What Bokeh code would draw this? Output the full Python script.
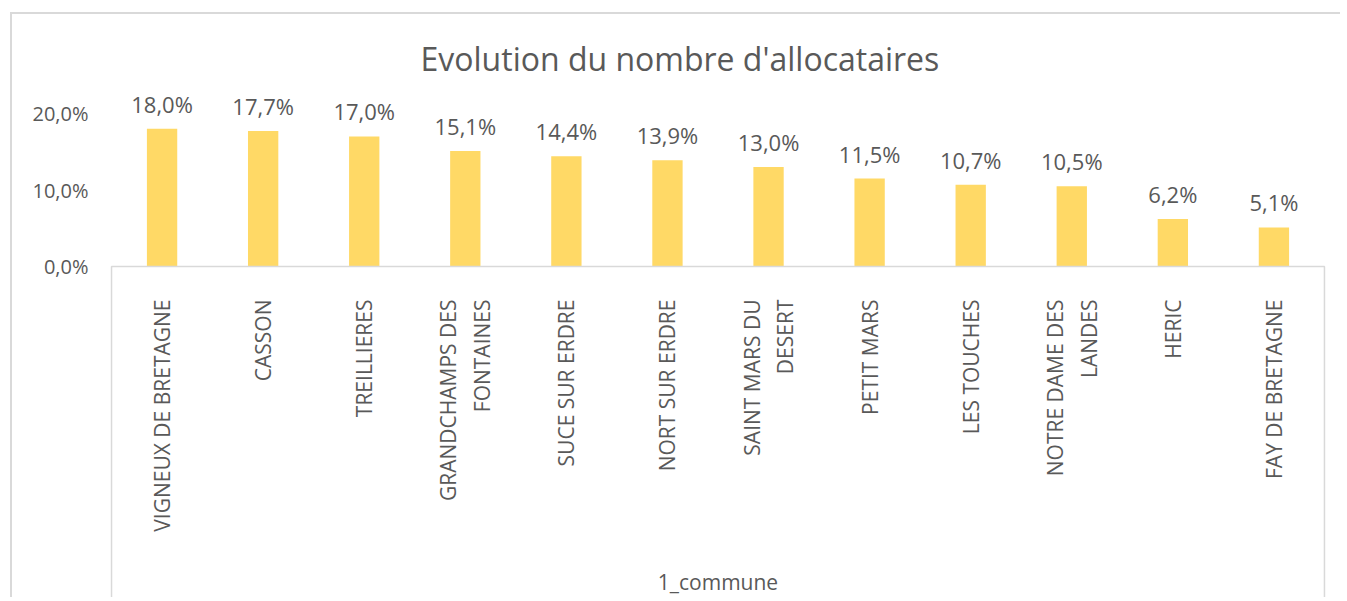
import math
from bokeh.plotting import figure
from bokeh.models import (FactorRange, Range1d, FixedTicker, CustomJSTickFormatter,
                          ColumnDataSource)
from bokeh.core.properties import value
from bokeh.embed import file_html
from bokeh.resources import INLINE

# ---- data ----
communes = ["VIGNEUX DE BRETAGNE", "CASSON", "TREILLIERES", "GRANDCHAMPS DES\nFONTAINES",
            "SUCE SUR ERDRE", "NORT SUR ERDRE", "SAINT MARS DU\nDESERT", "PETIT MARS",
            "LES TOUCHES", "NOTRE DAME DES\nLANDES", "HERIC", "FAY DE BRETAGNE"]
evolution = [0.180, 0.177, 0.170, 0.151, 0.144, 0.139, 0.130, 0.115, 0.107, 0.105, 0.062, 0.051]
y_ticks = [0.0, 0.1, 0.2]
title_text = "Evolution du nombre d'allocataires"
x_title = "1_commune"

labels = [("%.1f" % (v * 100)).replace(".", ",") + "%" for v in evolution]
src = ColumnDataSource(dict(x=communes, y=evolution, lab=labels))

TXT = "#595959"
GRID = "#d9d9d9"
FONT = "Open Sans"

# canvas origin sits at page (12, 14) because of margin + css border
# y: 765 px per unit; frame spans page y 86 .. 599, zero at page y 266
y_end = (266 - 86) / 765.0
y_start = -(599 - 266) / 765.0

p = figure(width=1330, height=585, output_backend="svg", toolbar_location=None,
           x_range=FactorRange(factors=communes, range_padding=0.03, range_padding_units="absolute"),
           y_range=Range1d(y_start, y_end),
           min_border_left=96, min_border_right=15, min_border_top=72, min_border_bottom=0)
p.margin = (12, 0, 0, 10)
p.styles = {"border-top": "2px solid #d9d9d9", "border-left": "2px solid #d9d9d9"}
p.outline_line_color = None
p.background_fill_color = "white"
p.border_fill_color = "white"
p.xgrid.grid_line_color = None
p.ygrid.grid_line_color = None

# title
p.title.text = title_text
p.title.align = "left"
p.title.offset = 312
p.title.text_font = FONT
p.title.text_font_size = "32px"
p.title.text_font_style = "normal"
p.title.text_color = TXT
p.title.standoff = 13

p.vbar(x="x", top="y", width=0.3, source=src, fill_color="#FFD966", line_color=None)
p.text(x="x", y="y", text="lab", source=src, text_align="center", text_baseline="alphabetic",
       y_offset=-25, text_font=value(FONT), text_font_size="22px", text_color=TXT)

# category box: axis line on top + sides going down
n = len(communes)
p.line(x=[0, 0, n, n], y=[y_start, 0, 0, y_start], line_color=GRID, line_width=1.5)

# y axis
ya = p.yaxis[0]
ya.ticker = FixedTicker(ticks=y_ticks)
ya.formatter = CustomJSTickFormatter(code="return (tick*100).toFixed(1).replace('.', ',') + '%';")
ya.axis_line_color = None
ya.major_tick_line_color = None
ya.major_tick_out = 0
ya.major_tick_in = 0
ya.minor_tick_line_color = None
ya.major_label_standoff = 20
ya.major_label_text_font = FONT
ya.major_label_text_font_size = "20px"
ya.major_label_text_color = TXT

# x axis, drawn at y = 0
xa = p.xaxis[0]
xa.fixed_location = 0
xa.axis_line_color = None
xa.major_tick_line_color = None
xa.major_tick_out = 0
xa.major_tick_in = 0
xa.minor_tick_line_color = None
xa.major_label_orientation = math.pi / 2
xa.major_label_standoff = 33
xa.major_label_text_font = FONT
xa.major_label_text_font_size = "21px"
xa.major_label_text_color = TXT
xa.axis_label = x_title
xa.axis_label_text_font = FONT
xa.axis_label_text_font_size = "21px"
xa.axis_label_text_font_style = "normal"
xa.axis_label_text_color = TXT
xa.axis_label_standoff = 33

open("out.html", "w").write(file_html(p, INLINE))
